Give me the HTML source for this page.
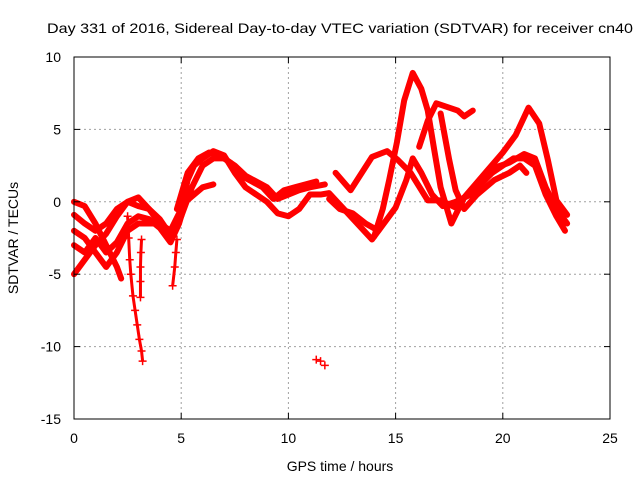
<!DOCTYPE html>
<html><head><meta charset="utf-8"><style>
body{margin:0;background:#fff}
svg{display:block;font-family:"Liberation Sans",sans-serif}
</style></head><body>
<svg id="chart" width="640" height="480">
<g id="grid"></g>
<g id="series"></g>
<g id="axes"></g>
<text x="340" y="33" text-anchor="middle" font-size="14" textLength="586" lengthAdjust="spacingAndGlyphs">Day 331 of 2016, Sidereal Day-to-day VTEC variation (SDTVAR) for receiver cn40</text>
<text x="340" y="471" text-anchor="middle" font-size="14">GPS time / hours</text>
<text x="18" y="238" text-anchor="middle" font-size="14" transform="rotate(-90 18 238)">SDTVAR / TECUs</text>
</svg>
<script>
const xTicks=[0,5,10,15,20,25];
const yTicks=[10,5,0,-5,-10,-15];
const trackA=[[0,0],[0.5,-0.3],[1,-1.5],[1.5,-3],[2,-4.5],[2.2,-5.3]];
const trackB=[[0,-0.9],[0.5,-1.5],[1,-2],[1.5,-1.5],[2,-0.5],[2.5,0],[3,-0.3],[3.5,-0.5],[4,-1.2],[4.5,-2.3]];
const trackC=[[0,-2],[0.5,-2.5],[1,-3.5],[1.5,-4.5],[2,-3.5],[2.5,-2],[3,-1.5],[4,-1.5],[4.5,-2.5],[5,-1],[5.5,1],[6,2.5],[6.5,3],[7,3],[7.5,2.5],[8,1.8],[9,1],[9.5,0.2],[10,0.5],[10.5,0.8],[11,1],[11.7,1.2]];
const trackD=[[0,-5],[0.5,-4],[1,-3],[1.5,-2.2],[2,-1],[2.5,0],[3,0.3],[3.5,-0.5],[4,-1.5],[4.5,-2],[5,-0.5],[5.3,1.5],[5.6,2.5],[6,3],[6.5,3.5],[7,3.2],[7.5,2],[8,1],[9,0],[9.5,-0.8],[10,-1],[10.5,-0.5],[11,0.5],[11.5,0.5],[11.9,0.6],[12.9,-1],[13.9,-2.6],[14.2,-2],[15,-0.4],[15.5,1.5],[15.8,3],[16.2,2],[16.7,0.5],[17.2,-0.3],[17.8,0],[18.5,0.5],[19.5,2],[20.5,3],[21,3],[21.5,2.5],[22,0.5],[22.5,-1],[22.9,-2]];
const trackE=[[0,-3],[0.5,-3.5],[1,-2.5],[1.5,-3.5],[2,-2.8],[2.5,-1.5],[3,-1],[3.5,-1.2],[4,-1.8],[4.5,-2.8],[4.9,-1.5],[5.2,0],[5.6,0.5],[6,1],[6.5,1.2]];
const trackF=[[4.8,-0.5],[5,0.5],[5.3,2],[5.8,3],[6.3,3.4],[6.8,3.2],[7.3,2.7],[7.8,1.8],[8.3,1.4],[8.8,1],[9.3,0.2],[9.8,0.8],[10.3,1],[10.8,1.2],[11.3,1.4]];
const trackG=[[12.2,2],[12.9,0.8],[13.9,3.1],[14.6,3.5],[15.1,2.9],[15.7,2],[16.5,0.1],[17.1,0.1],[17.8,-0.4],[18.5,0.8],[19.5,2.3],[20.3,2.7],[21,3.3],[21.5,3],[22,1],[22.5,-0.5],[23,-1.5]];
const trackH=[[14,-2.4],[14.4,-0.5],[14.7,1.5],[15.06,4.1],[15.4,7],[15.8,8.9],[16.2,7.8],[16.5,6.3],[16.8,3.6],[17.1,1],[17.6,-1.5],[18.2,0.3],[19.3,2.2],[20,3.4],[20.6,4.6],[21.2,6.5],[21.7,5.4],[22.1,2.9],[22.5,0.1],[23,-0.9]];
const trackI=[[16.1,3.8],[16.5,5.6],[16.9,6.8],[17.9,6.3],[18.2,5.9],[18.6,6.3]];
const trackJ=[[17.1,6.1],[17.5,2.9],[17.8,0.8],[18.2,-0.5],[18.8,0.5],[19.6,1.5],[20.3,2],[20.8,2.5],[21.1,2]];
const trackK=[[11.9,0.2],[12.4,-0.5],[13,-0.8],[13.6,-1.5],[14.2,-2]];
const dropA=[[2.5,-1],[2.55,-2.5],[2.6,-4],[2.65,-5],[2.75,-6.5],[2.85,-7.5],[2.95,-8.5],[3.05,-9.5],[3.15,-10.3],[3.2,-11]];
const dropB=[[3.15,-2.6],[3.12,-3.5],[3.1,-4.5],[3.1,-5.5],[3.1,-6.6]];
const dropC=[[4.8,-2.6],[4.75,-3.5],[4.7,-4.5],[4.6,-5.8]];
const isolated=[[11.3,-10.9],[11.5,-11],[11.7,-11.3]];
const NS='http://www.w3.org/2000/svg';
const X0=74,X1=610,Y0=419,Y1=57;
const sx=v=>X0+(v-0)/(25-0)*(X1-X0);
const sy=v=>Y0-(v+15)/(25)*(Y0-Y1);
const grid=document.getElementById('grid'),axes=document.getElementById('axes'),ser=document.getElementById('series');
function mk(t,a,p){const e=document.createElementNS(NS,t);for(const k in a)e.setAttribute(k,a[k]);p.appendChild(e);return e;}
xTicks.forEach(t=>{const x=sx(t);
 if(t>0&&t<25){const g=mk('line',{x1:x,x2:x,y1:Y0,y2:Y1,stroke:'#a0a0a0','stroke-dasharray':'2,3'},grid);
 
 }
 mk('line',{x1:x,x2:x,y1:Y0,y2:Y0-6,stroke:'#000'},axes);mk('line',{x1:x,x2:x,y1:Y1,y2:Y1+6,stroke:'#000'},axes);
 const l=mk('text',{x:x,y:443,'text-anchor':'middle','font-size':14},axes);l.textContent=t;
 
 });
yTicks.forEach(t=>{const y=sy(t);
 if(t<10&&t>-15){const g=mk('line',{x1:X0,x2:X1,y1:y,y2:y,stroke:'#a0a0a0','stroke-dasharray':'2,3'},grid);
 
 }
 mk('line',{x1:X0,x2:X0+6,y1:y,y2:y,stroke:'#000'},axes);mk('line',{x1:X1,x2:X1-6,y1:y,y2:y,stroke:'#000'},axes);
 const l=mk('text',{x:61,y:y+5,'text-anchor':'end','font-size':14},axes);l.textContent=t;
 
 });
const fr=mk('rect',{x:X0,y:Y1,width:X1-X0,height:Y0-Y1,fill:'none',stroke:'#000'},axes);


[trackA,trackB,trackC,trackD,trackE,trackF,trackG,trackH,trackI,trackJ,trackK].forEach((tr,i)=>{
 const p=mk('polyline',{points:tr.map(d=>sx(d[0])+','+sy(d[1])).join(' '),fill:'none',stroke:'#ff0000','stroke-width':6,'stroke-linejoin':'round','stroke-linecap':'round'},ser);
 
 });
[dropA,dropB,dropC].forEach((tr,i)=>{
 const p=mk('polyline',{points:tr.map(d=>sx(d[0])+','+sy(d[1])).join(' '),fill:'none',stroke:'#ff0000','stroke-width':3},ser);
 
 });
[dropA,dropB,dropC,isolated].forEach((tr,i)=>{tr.forEach(d=>{
 const m=mk('path',{d:`M${sx(d[0])-4},${sy(d[1])}h8M${sx(d[0])},${sy(d[1])-4}v8`,stroke:'#ff0000','stroke-width':1.5,fill:'none'},ser);
 
 });});
</script>
</body></html>
